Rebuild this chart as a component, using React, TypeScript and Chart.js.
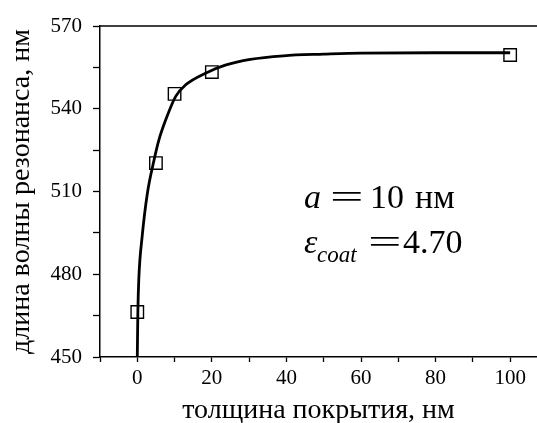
import React, { useEffect, useRef } from "react";
import { Chart, registerables } from "chart.js";

Chart.register(...registerables);

const pointX = [0, 5, 10, 20, 100];
const pointY = [466.3, 520.3, 545.4, 553.3, 559.5];

const curveX = [0, 0.15, 0.4, 1.3, 2.7, 4.5, 5.8, 7.6, 10.3, 12.9, 18.3, 23.6, 30.3, 39.2, 50, 60, 80, 100];
const curveY = [450, 466, 478, 493.6, 509.3, 521.4, 528.7, 535.9, 544.5, 548.6, 552.9, 555.8, 557.9, 559.2, 559.8, 560.2, 560.3, 560.3];

const xTicks = [-10, 0, 10, 20, 30, 40, 50, 60, 70, 80, 90, 100];
const yTicks = [450, 465, 480, 495, 510, 525, 540, 555, 570];

const xTitle = "толщина покрытия, нм";
const yTitle = "длина волны резонанса, нм";

const SERIF = "'Liberation Serif', 'Times New Roman', serif";

const framePlugin = {
  id: "frameAndText",
  afterDraw(chart: any) {
    const { ctx, chartArea } = chart;
    ctx.save();
    ctx.strokeStyle = "#000";
    ctx.lineWidth = 1.5;
    ctx.beginPath();
    ctx.moveTo(chartArea.left, chartArea.top);
    ctx.lineTo(chartArea.right, chartArea.top);
    ctx.stroke();

    ctx.fillStyle = "#000";
    ctx.textBaseline = "alphabetic";
    ctx.textAlign = "left";
    // line 1: a = 10 нм
    ctx.font = `italic 34px ${SERIF}`;
    ctx.fillText("a", 304, 208);
    ctx.font = `34px ${SERIF}`;
    ctx.save();
    ctx.translate(330, 208);
    ctx.scale(1.75, 1);
    ctx.fillText("=", 0, 0);
    ctx.restore();
    ctx.fillText("10", 370, 208);
    ctx.fillText("нм", 415, 208);
    // line 2: ε_coat = 4.70
    ctx.font = `italic 34px ${SERIF}`;
    ctx.fillText("ε", 304, 253);
    ctx.font = `italic 23px ${SERIF}`;
    ctx.fillText("coat", 317, 262);
    ctx.font = `34px ${SERIF}`;
    ctx.save();
    ctx.translate(368, 253);
    ctx.scale(1.75, 1);
    ctx.fillText("=", 0, 0);
    ctx.restore();
    ctx.fillText("4.70", 403, 253);
    ctx.restore();
  },
};

export default function App() {
  const ref = useRef<HTMLCanvasElement | null>(null);

  useEffect(() => {
    if (!ref.current) return;
    const chart = new Chart(ref.current, {
      type: "scatter",
      data: {
        datasets: [
          {
            type: "line",
            data: curveX.map((x, i) => ({ x, y: curveY[i] })),
            borderColor: "#000",
            borderWidth: 2.8,
            pointRadius: 0,
            cubicInterpolationMode: "monotone",
            fill: false,
          } as any,
          {
            data: pointX.map((x, i) => ({ x, y: pointY[i] })),
            pointStyle: "rect",
            pointRadius: 8.8,
            borderColor: "#000",
            backgroundColor: "rgba(0,0,0,0)",
            borderWidth: 1.4,
            showLine: false,
          },
        ],
      },
      options: {
        responsive: false,
        animation: false,
        layout: { autoPadding: false, padding: { top: 26, right: 0, left: 0, bottom: 0 } },
        plugins: { legend: { display: false }, tooltip: { enabled: false } },
        scales: {
          x: {
            type: "linear",
            min: -10,
            max: 107.2,
            afterBuildTicks: (s: any) => {
              s.ticks = xTicks.map((v) => ({ value: v }));
            },
            afterFit: (s: any) => {
              s.height = 66;
              s.paddingLeft = 0;
              s.paddingRight = 0;
            },
            grid: {
              drawOnChartArea: false,
              drawTicks: true,
              tickLength: 5,
              tickColor: "#000",
              tickWidth: 1.3,
            },
            border: { display: true, color: "#000", width: 1.5 },
            ticks: {
              autoSkip: false,
              maxRotation: 0,
              color: "#000",
              padding: 4,
              font: { family: SERIF, size: 21 },
              callback: (v: any) => (Number(v) >= 0 && Number(v) % 20 === 0 ? String(v) : ""),
            },
            title: {
              display: true,
              text: xTitle,
              color: "#000",
              font: { family: SERIF, size: 28, lineHeight: 1.2 },
              padding: { top: 0, bottom: -4 },
            },
          },
          y: {
            type: "linear",
            min: 450,
            max: 570,
            afterBuildTicks: (s: any) => {
              s.ticks = yTicks.map((v) => ({ value: v }));
            },
            afterFit: (s: any) => {
              s.width = 100;
              s.paddingTop = 0;
              s.paddingBottom = 0;
            },
            grid: {
              drawOnChartArea: false,
              drawTicks: true,
              tickLength: 7,
              tickColor: "#000",
              tickWidth: 1.3,
            },
            border: { display: true, color: "#000", width: 1.5 },
            ticks: {
              autoSkip: false,
              color: "#000",
              padding: 11,
              font: { family: SERIF, size: 21 },
              callback: (v: any) => (Number(v) % 30 === 0 ? String(v) : ""),
            },
            title: {
              display: true,
              text: yTitle,
              color: "#000",
              font: { family: SERIF, size: 28, lineHeight: 1.2 },
              padding: { top: 5, bottom: 0 },
            },
          },
        },
      },
      plugins: [framePlugin],
    } as any);
    return () => chart.destroy();
  }, []);

  return (
    <div style={{ position: "fixed", left: 0, top: 0, width: 537, height: 423, background: "#fff" }}>
      <canvas ref={ref} width={537} height={423} />
    </div>
  );
}
